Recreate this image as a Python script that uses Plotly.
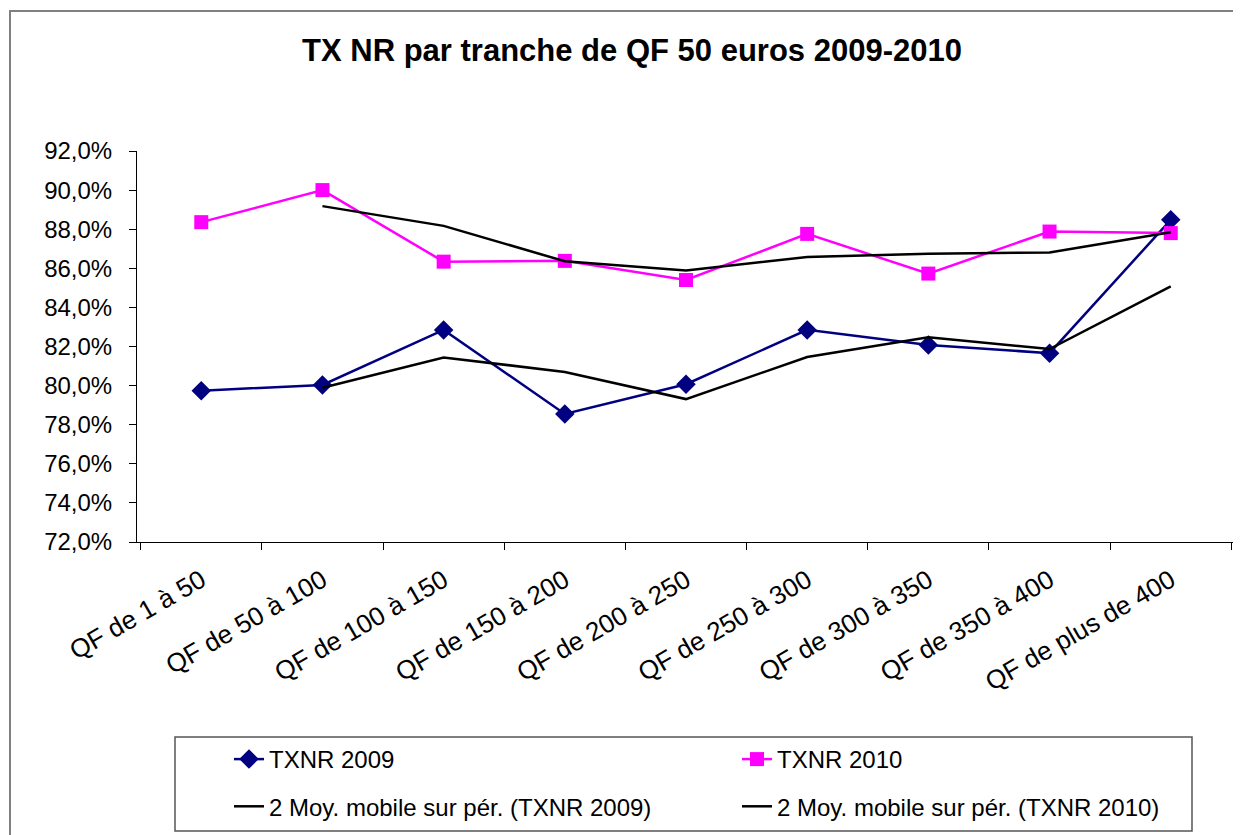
import plotly.graph_objects as go

categories = ["QF de 1 à 50", "QF de 50 à 100", "QF de 100 à 150", "QF de 150 à 200",
              "QF de 200 à 250", "QF de 250 à 300", "QF de 300 à 350", "QF de 350 à 400",
              "QF de plus de 400"]
txnr_2009 = [79.74, 80.03, 82.85, 78.55, 80.07, 82.85, 82.08, 81.66, 88.48]
txnr_2010 = [88.36, 90.00, 86.34, 86.38, 85.40, 87.76, 85.73, 87.88, 87.80]
ma_2009 = [None, 79.89, 81.44, 80.70, 79.31, 81.46, 82.47, 81.87, 85.07]
ma_2010 = [None, 89.18, 88.17, 86.36, 85.89, 86.58, 86.75, 86.81, 87.84]
y_ticks = [72, 74, 76, 78, 80, 82, 84, 86, 88, 90, 92]
y_tick_labels = ["72,0%", "74,0%", "76,0%", "78,0%", "80,0%", "82,0%", "84,0%",
                 "86,0%", "88,0%", "90,0%", "92,0%"]

W, H = 1241, 835
OFF = 8  # page body margin: figure origin sits at screen (8, 8)
# target screen coordinates of the plot area
SL, SR, ST, SB = 137, 1235, 151, 542
L, R, T, B = SL - OFF, SR - OFF, ST - OFF, SB - OFF


def px_x(p):
    return (p - SL) / (SR - SL)


def px_y(p):
    return (SB - p) / (SB - ST)


def cx(p):
    return (p - OFF) / W


def cy(p):
    return 1 - (p - OFF) / H


FONT = "Liberation Sans, Arial, sans-serif"

fig = go.Figure()
fig.add_trace(go.Scatter(x=categories, y=txnr_2009, name="TXNR 2009", mode="lines+markers",
                         line=dict(color="#000080", width=2.5),
                         marker=dict(symbol="diamond", size=15, color="#000080"),
                         legend="legend", legendgroup="a"))
fig.add_trace(go.Scatter(x=categories, y=ma_2009, name="2 Moy. mobile sur pér. (TXNR 2009)",
                         mode="lines", line=dict(color="#000000", width=2.5),
                         legend="legend", legendgroup="b"))
fig.add_trace(go.Scatter(x=categories, y=txnr_2010, name="TXNR 2010", mode="lines+markers",
                         line=dict(color="#FF00FF", width=2.5),
                         marker=dict(symbol="square", size=14, color="#FF00FF"),
                         legend="legend2", legendgroup="c"))
fig.add_trace(go.Scatter(x=categories, y=ma_2010, name="2 Moy. mobile sur pér. (TXNR 2010)",
                         mode="lines", line=dict(color="#000000", width=2.5),
                         legend="legend2", legendgroup="d"))

legend_common = dict(font=dict(family=FONT, size=24, color="#000000"),
                     bgcolor="rgba(0,0,0,0)", borderwidth=0, tracegroupgap=13,
                     xref="container", yref="container",
                     yanchor="top", xanchor="left", orientation="v")

fig.update_layout(
    width=W, height=H,
    margin=dict(l=L, r=W - R, t=T, b=H - B, pad=0, autoexpand=False),
    paper_bgcolor="white", plot_bgcolor="white",
    title=dict(text="<b>TX NR par tranche de QF 50 euros 2009-2010</b>",
               font=dict(family=FONT, size=31, color="#000000"),
               x=cx(632), xanchor="center", xref="container",
               y=cy(50), yanchor="middle", yref="container"),
    xaxis=dict(type="category", tickson="boundaries", ticks="outside", ticklen=7,
               tickcolor="#000000", showline=True, linecolor="#000000", linewidth=1,
               showgrid=False, tickangle=-30, automargin=False, ticklabelstandoff=12,
               tickfont=dict(family=FONT, size=26, color="#000000")),
    yaxis=dict(range=[72, 92], tickvals=y_ticks, ticktext=y_tick_labels,
               ticks="outside", ticklen=7, tickcolor="#000000", showline=True,
               linecolor="#000000", linewidth=1, showgrid=False, zeroline=False,
               automargin=False, ticklabelstandoff=12,
               tickfont=dict(family=FONT, size=24, color="#000000")),
    legend=dict(x=cx(229), y=cy(737), **legend_common),
    legend2=dict(x=cx(737), y=cy(737), **legend_common),
    shapes=[
        dict(type="rect", xref="paper", yref="paper",
             x0=px_x(10), x1=px_x(1270), y0=px_y(870), y1=px_y(11),
             line=dict(color="#808080", width=2), fillcolor="rgba(0,0,0,0)", layer="below"),
        dict(type="rect", xref="paper", yref="paper",
             x0=px_x(175), x1=px_x(1192), y0=px_y(831), y1=px_y(737),
             line=dict(color="#555555", width=1.5), fillcolor="rgba(0,0,0,0)", layer="below"),
    ],
)

fig.write_html("out.html")
